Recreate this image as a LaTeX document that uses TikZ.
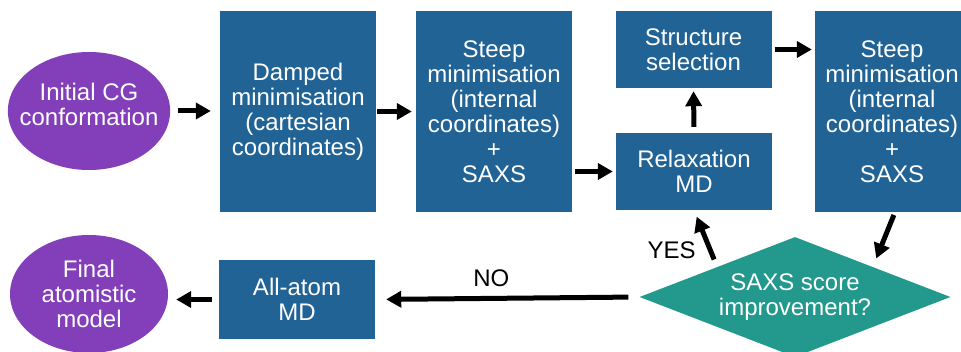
\documentclass[tikz,border=0pt]{standalone}
\usepackage{fontspec}
\setmainfont{Liberation Sans}
\usetikzlibrary{shapes.geometric,arrows.meta}
\definecolor{boxblue}{RGB}{33,99,149}
\definecolor{ovalpurple}{RGB}{131,62,185}
\definecolor{diamondteal}{RGB}{34,153,140}

\begin{document}
\begin{tikzpicture}[x=1pt, y=-1pt,
    txt/.style={text=white, align=center, font=\fontsize{24}{25}\selectfont, inner sep=0pt},
    stage/.style={txt, fill=boxblue, minimum width=156pt},
    oval/.style={txt, ellipse, fill=ovalpurple, inner sep=-12pt, minimum width=158pt, minimum height=118pt},
    flow/.style={line width=5pt, -{Triangle[length=15pt,width=16pt]}},
    answer/.style={font=\fontsize{24}{25}\selectfont, inner sep=0pt}]
    \useasboundingbox (0,0) rectangle (961,352);
    \node[oval, text depth=14pt] (init) at (89,111) {Initial CG\\conformation};
    \node[oval] (final) at (89,294) {Final\\atomistic\\model};

    \node[stage, minimum height=201pt] (damped) at (298,111.5) {Damped\\minimisation\\(cartesian\\coordinates)};
    \node[stage, minimum height=201pt] (steep) at (494,111.5) {Steep\\minimisation\\(internal\\coordinates)\\+\\SAXS};
    \node[stage, minimum height=77pt] (select) at (693.5,49.5) {Structure\\selection};
    \node[stage, minimum height=77pt] (relax) at (694,171.5) {Relaxation\\MD};
    \node[stage, minimum width=154pt, minimum height=201pt] (steepsaxs) at (892,111.5) {Steep\\minimisation\\(internal\\coordinates)\\+\\SAXS};
    \node[stage, minimum height=79pt] (allatom) at (297,299.5) {All-atom\\MD};
    \node[txt, diamond, aspect=2.59, fill=diamondteal, minimum width=311pt, minimum height=120pt] (score) at (795,297) {SAXS score\\improvement?};

    \draw[flow, shorten <=8pt, shorten >=9pt] (init.east) -- (init.east -| damped.west);
    \draw[flow, shorten <=1pt, shorten >=4pt] (damped.east) -- (steep.west);
    \draw[flow, shorten <=3pt, shorten >=3pt] (relax.west -| steep.east) -- (relax.west);
    \draw[flow, shorten <=6pt, shorten >=3pt] (relax.north) -- (select.south);
    \draw[flow, shorten <=3pt, shorten >=3pt] (select.east) -- (select.east -| steepsaxs.west);
    \draw[flow, shorten <=3pt, shorten >=9pt] ([xshift=3pt]steepsaxs.south) -- (score.north east);
    \draw[flow, shorten <=8pt, shorten >=7pt] (score.north west) -- node[answer, pos=0.3, left=12pt] {YES} (relax.south);
    \draw[flow, shorten <=11pt, shorten >=11pt] (score.west) -- node[answer, pos=0.56, above=9pt] {NO} (allatom.east);
    \draw[flow, shorten <=7pt, shorten >=8pt] (allatom.west) -- (allatom.west -| final.east);
\end{tikzpicture}
\end{document}
